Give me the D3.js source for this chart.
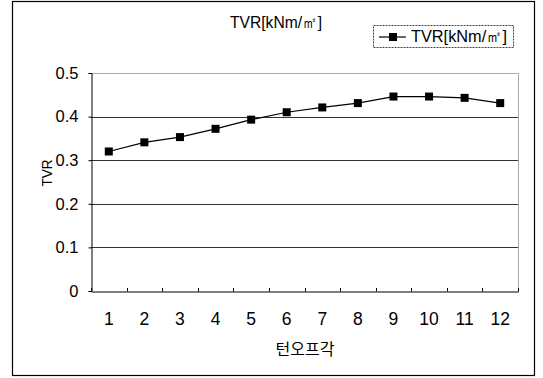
<!DOCTYPE html>
<html>
<head>
<meta charset="utf-8">
<script src="https://cdn.jsdelivr.net/npm/d3@7"></script>
<style>
  html, body { margin: 0; padding: 0; background: #fff; }
  svg { display: block; }
  text { font-family: "Liberation Sans", Arial, sans-serif; fill: #000; }
</style>
</head>
<body>
<svg id="chart" width="543" height="378"></svg>
<script>
// Turn-off angle index and the TVR measured at each one
const categories = ["1", "2", "3", "4", "5", "6", "7", "8", "9", "10", "11", "12"];
const tvrValues = [0.320, 0.341, 0.353, 0.372, 0.393, 0.410, 0.421, 0.431, 0.446, 0.446, 0.443, 0.431];
const yTicks = [0, 0.1, 0.2, 0.3, 0.4, 0.5];
const yTickLabels = ["0", "0.1", "0.2", "0.3", "0.4", "0.5"];
const titleText = "TVR[kNm/㎡]";
const seriesName = "TVR[kNm/㎡]";
const xTitle = "턴오프각";
const yTitle = "TVR";

const svg = d3.select("#chart");

// Outer chart frame
svg.append("rect")
  .attr("x", 12.5).attr("y", 1.5)
  .attr("width", 522).attr("height", 374)
  .attr("fill", "#fff").attr("stroke", "#000").attr("stroke-width", 1.2);

const plot = { left: 91, right: 518, top: 73, bottom: 291 };

const x = d3.scaleBand().domain(categories).range([plot.left, plot.right]);
const y = d3.scaleLinear().domain([0, 0.5]).range([plot.bottom, plot.top]);

// Horizontal gridlines
svg.append("g")
  .selectAll("line")
  .data(yTicks.filter(d => d > 0 && d < 0.5))
  .join("line")
  .attr("x1", plot.left).attr("x2", plot.right)
  .attr("y1", d => Math.round(y(d)) + 0.5).attr("y2", d => Math.round(y(d)) + 0.5)
  .attr("stroke", "#333").attr("stroke-width", 1);

// Plot area border: dotted top/right, solid left/bottom
svg.append("path")
  .attr("d", `M${plot.left + 0.5},${plot.top + 0.5}H${plot.right + 0.5}V${plot.bottom + 0.5}`)
  .attr("fill", "none").attr("stroke", "#555").attr("stroke-width", 1)
  .attr("stroke-dasharray", "1,1");

// Y axis
const yAxis = d3.axisLeft(y)
  .tickValues(yTicks)
  .tickFormat((d, i) => yTickLabels[i])
  .tickSize(3).tickPadding(10);
const gy = svg.append("g")
  .attr("transform", `translate(${plot.left + 0.5},0)`)
  .call(yAxis);
gy.select(".domain").attr("stroke", "#000");
gy.selectAll(".tick line").attr("stroke", "#000");
gy.selectAll(".tick text")
  .style("font-size", "16.5px").attr("fill", "#000");

// X axis with ticks between categories
const xAxis = d3.axisBottom(x).tickSize(0).tickPadding(21);
const gx = svg.append("g")
  .attr("transform", `translate(0,${plot.bottom + 0.5})`)
  .call(xAxis);
gx.select(".domain").attr("stroke", "#000");
gx.selectAll(".tick text").style("font-size", "17.5px").attr("fill", "#000");
svg.append("g")
  .selectAll("line")
  .data(categories.map(c => x(c)).concat([plot.right]))
  .join("line")
  .attr("x1", d => Math.round(d) + 0.5).attr("x2", d => Math.round(d) + 0.5)
  .attr("y1", plot.bottom - 3).attr("y2", plot.bottom + 0.5)
  .attr("stroke", "#000");

// Series line and square markers
const cx = d => x(d) + x.bandwidth() / 2;
const line = d3.line()
  .x((d, i) => cx(categories[i]))
  .y(d => y(d));
svg.append("path")
  .datum(tvrValues)
  .attr("d", line)
  .attr("fill", "none").attr("stroke", "#000").attr("stroke-width", 1.2);
svg.append("g")
  .selectAll("rect")
  .data(tvrValues)
  .join("rect")
  .attr("x", (d, i) => cx(categories[i]) - 4)
  .attr("y", d => y(d) - 4)
  .attr("width", 8).attr("height", 8)
  .attr("fill", "#000");

// Chart title
svg.append("text")
  .attr("x", 276).attr("y", 28)
  .attr("text-anchor", "middle")
  .attr("textLength", 92).attr("lengthAdjust", "spacingAndGlyphs")
  .style("font-size", "16px")
  .text(titleText);

// Axis titles
svg.append("text")
  .attr("x", 305).attr("y", 355)
  .attr("text-anchor", "middle")
  .style("font-size", "16px")
  .style("font-family", "'Noto Sans CJK KR', sans-serif")
  .text(xTitle);
svg.append("text")
  .attr("transform", "translate(52,173) rotate(-90)")
  .attr("text-anchor", "middle")
  .attr("textLength", 27).attr("lengthAdjust", "spacingAndGlyphs")
  .style("font-size", "15px")
  .text(yTitle);

// Legend
const lg = svg.append("g").attr("transform", "translate(373,25)");
lg.append("rect")
  .attr("x", 0.5).attr("y", 0.5).attr("width", 140).attr("height", 22)
  .attr("fill", "#fff").attr("stroke", "#444").attr("stroke-dasharray", "2,1");
lg.append("line")
  .attr("x1", 6).attr("x2", 33).attr("y1", 12).attr("y2", 12)
  .attr("stroke", "#000").attr("stroke-width", 1.2);
lg.append("rect")
  .attr("x", 16).attr("y", 8).attr("width", 8).attr("height", 8).attr("fill", "#000");
lg.append("text")
  .attr("x", 38).attr("y", 17)
  .attr("textLength", 96).attr("lengthAdjust", "spacingAndGlyphs")
  .style("font-size", "16px")
  .text(seriesName);
</script>
</body>
</html>
